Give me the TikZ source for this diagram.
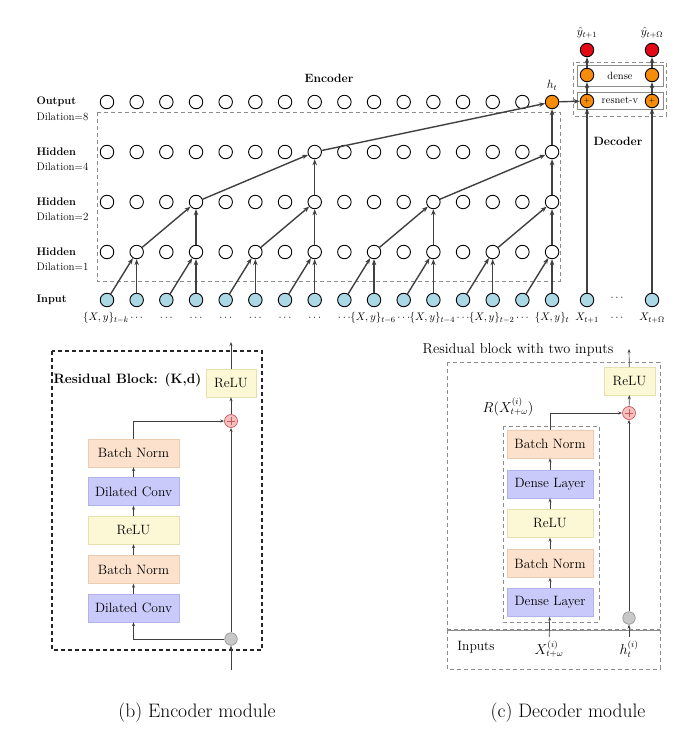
\documentclass[tikz,border=0pt]{standalone}
\usetikzlibrary{arrows.meta,calc}
\definecolor{lnc}{RGB}{64,64,64}
\definecolor{inpc}{RGB}{170,216,228}
\definecolor{orgc}{RGB}{246,140,10}
\definecolor{redc}{RGB}{226,10,20}
\definecolor{bnfill}{RGB}{252,226,204}
\definecolor{bnline}{RGB}{236,204,176}
\definecolor{cvfill}{RGB}{202,202,250}
\definecolor{cvline}{RGB}{178,178,236}
\definecolor{rlfill}{RGB}{252,248,214}
\definecolor{rlline}{RGB}{230,224,176}
\definecolor{plfill}{RGB}{246,192,192}
\definecolor{plline}{RGB}{200,90,90}
\definecolor{gyfill}{RGB}{200,200,200}
\definecolor{gyline}{RGB}{150,150,150}
\definecolor{dashc}{RGB}{140,140,140}
\begin{document}
\begin{tikzpicture}[x=1pt,y=-1pt,
  cir/.style={circle,draw=black,line width=0.9pt,minimum size=13.5pt,inner sep=0pt,fill=white},
  inp/.style={cir,fill=inpc},
  org/.style={cir,fill=orgc},
  rdc/.style={cir,fill=redc},
  arr/.style={draw=lnc,line width=1.4pt,-{Stealth[length=6pt,width=4.5pt]}},
  sarr/.style={draw=lnc,line width=0.7pt,-{Stealth[length=4pt,width=3pt]}},
  rowlab/.style={anchor=west,font=\fontsize{11}{13}\selectfont\bfseries},
  dillab/.style={anchor=west,font=\fontsize{11}{13}\selectfont},
  inlab/.style={font=\fontsize{11}{13}\selectfont},
  blk/.style={rectangle,minimum height=28pt,inner sep=0pt,font=\fontsize{13.5}{15}\selectfont},
  bnbox/.style={blk,fill=bnfill,draw=bnline},
  cvbox/.style={blk,fill=cvfill,draw=cvline},
  rlbox/.style={blk,fill=rlfill,draw=rlline},
  plusc/.style={circle,draw=plline,fill=plfill,minimum size=13pt,inner sep=0pt,line width=0.7pt},
  grayc/.style={circle,draw=gyline,fill=gyfill,minimum size=12.5pt,inner sep=0pt,line width=0.7pt},
  gdash/.style={draw=dashc,line width=0.9pt,dash pattern=on 4pt off 3pt}
]
\useasboundingbox (0,0) rectangle (682,751);
\fill[white] (0,0) rectangle (682,751);

% ---------------- top network ----------------
\draw[gdash] (97,112) rectangle (560,281);
\foreach \i in {0,...,15}{
  \node[inp] (in\i) at ({107+29.67*\i},300) {};
  \node[cir] (ha\i) at ({107+29.67*\i},252) {};
  \node[cir] (hb\i) at ({107+29.67*\i},202) {};
  \node[cir] (hc\i) at ({107+29.67*\i},152) {};
}
\foreach \i in {0,...,14}{
  \node[cir] (o\i) at ({107+29.67*\i},102) {};
}
\node[org] (o15) at ({107+29.67*15},102) {};

\foreach \a/\b in {0/1,2/3,4/5,6/7,8/9,10/11,12/13,14/15}{
  \draw[arr] (in\a) -- (ha\b);
  \draw[arr] (in\b) -- (ha\b);
}
\foreach \a/\b in {1/3,5/7,9/11,13/15}{
  \draw[arr] (ha\a) -- (hb\b);
  \draw[arr] (ha\b) -- (hb\b);
}
\foreach \a/\b in {3/7,11/15}{
  \draw[arr] (hb\a) -- (hc\b);
  \draw[arr] (hb\b) -- (hc\b);
}
\draw[arr] (hc7) -- (o15);
\draw[arr] (hc15) -- (o15);

\node[rowlab] (lo) at (33,102) {Output};
\node[dillab] (ld8) at (33,117) {Dilation=8};
\node[rowlab] (lh4) at (33,152) {Hidden};
\node[dillab] (ld4) at (33,167) {Dilation=4};
\node[rowlab] (lh2) at (33,202) {Hidden};
\node[dillab] (ld2) at (33,217) {Dilation=2};
\node[rowlab] (lh1) at (33,252) {Hidden};
\node[dillab] (ld1) at (33,267) {Dilation=1};
\node[rowlab] (lin) at (33,300) {Input};
\node[font=\fontsize{12}{14}\selectfont\bfseries] (enc) at (329,78) {Encoder};
\node[font=\fontsize{12}{14}\selectfont] (htl) at (552,85) {$h_t$};

% input labels
\node[inlab] (t0) at (106,318) {$\{X,y\}_{t-k}$};
\foreach \i in {1,...,8,10,12,14}{
  \node[inlab] (t\i) at ({107+29.67*\i},318) {$\cdots$};
}
\node[inlab] (t9) at ({107+29.67*9-1},318) {$\{X,y\}_{t-6}$};
\node[inlab] (t11) at ({107+29.67*11-1},318) {$\{X,y\}_{t-4}$};
\node[inlab] (t13) at ({107+29.67*13-1},318) {$\{X,y\}_{t-2}$};
\node[inlab] (t15) at ({107+29.67*15},318) {$\{X,y\}_{t}$};

% decoder (top)
\draw[gdash] (573,62) rectangle (666,116);
\draw[draw=dashc,line width=0.8pt] (577,92) rectangle (663,109);
\draw[draw=dashc,line width=0.8pt] (577,65) rectangle (663,86);
\node[font=\fontsize{10.5}{12}\selectfont] (rv) at (620,100) {resnet-v};
\node[font=\fontsize{10.5}{12}\selectfont] (dn) at (620,75.5) {dense};
\node[inp] (x1) at (587,300) {};
\node[inp] (xo) at (652,300) {};
\node[inlab] (x1l) at (587,318) {$X_{t+1}$};
\node[inlab] (dl) at (617,318) {$\cdots$};
\node[inlab] (dl2) at (617,298) {$\cdots$};
\node[inlab] (xol) at (652,318) {$X_{t+\Omega}$};
\node[org,font=\fontsize{7}{8}\selectfont] (p1) at (587,101) {$+$};
\node[org,font=\fontsize{7}{8}\selectfont] (p2) at (652,101) {$+$};
\node[org] (d1) at (587,75) {};
\node[org] (d2) at (652,75) {};
\node[rdc] (y1) at (587,50) {};
\node[rdc] (y2) at (652,50) {};
\node[font=\fontsize{11.5}{13}\selectfont] (y1l) at (587,33) {$\hat{y}_{t+1}$};
\node[font=\fontsize{11.5}{13}\selectfont] (y2l) at (652,33) {$\hat{y}_{t+\Omega}$};
\node[font=\fontsize{12}{14}\selectfont\bfseries] (decl) at (618,141) {Decoder};
\draw[arr] (o15) -- (p1);
\draw[arr] (x1) -- (p1);
\draw[arr] (xo) -- (p2);
\draw[arr] (p1) -- (d1);
\draw[arr] (p2) -- (d2);
\draw[arr] (d1) -- (y1);
\draw[arr] (d2) -- (y2);

% ---------------- encoder module ----------------
\draw[draw=black!85,line width=1.2pt,dash pattern=on 4pt off 3pt] (52,351) rectangle (262,650);
\node[anchor=west,font=\fontsize{13.6}{16}\selectfont\bfseries] (rbt) at (50,380) {Residual Block: (K,d)};
\node[rlbox,minimum width=50pt] (erl) at (231,383) {ReLU};
\node[plusc] (epl) at (231,421) {};
\draw[plline,line width=0.7pt] ($(epl.center)+(-4,0)$) -- ($(epl.center)+(4,0)$);
\draw[plline,line width=0.7pt] ($(epl.center)+(0,-4)$) -- ($(epl.center)+(0,4)$);
\node[grayc] (egc) at (231,639) {};
\coordinate (ebot) at (231,670);
\coordinate (etop) at (231,342);
\node[bnbox,minimum width=91pt] (ebn2) at (133.5,453) {Batch Norm};
\node[cvbox,minimum width=91pt] (ecv2) at (133.5,491.5) {Dilated Conv};
\node[rlbox,minimum width=91pt] (erl1) at (133.5,530) {ReLU};
\node[bnbox,minimum width=91pt] (ebn1) at (133.5,569.5) {Batch Norm};
\node[cvbox,minimum width=91pt] (ecv1) at (133.5,608) {Dilated Conv};
\draw[sarr] (ebot) -- (egc);
\draw[sarr] (egc) -- (epl);
\draw[sarr] (epl) -- (erl);
\draw[sarr] (erl) -- (etop);
\draw[sarr] (egc) -| (ecv1);
\draw[sarr] (ecv1) -- (ebn1);
\draw[sarr] (ebn1) -- (erl1);
\draw[sarr] (erl1) -- (ecv2);
\draw[sarr] (ecv2) -- (ebn2);
\draw[sarr] (ebn2) |- (epl);

% ---------------- decoder module ----------------
\node[font=\fontsize{14.3}{16}\selectfont] (dtitle) at (518,350) {Residual block with two inputs};
\draw[gdash] (447,362) rectangle (660,630);
\draw[gdash,line width=1.6pt] (447,630) -- (660,630);
\draw[gdash] (447,630) rectangle (660,669);
\draw[gdash] (503,426) rectangle (599,622);
\node[rlbox,minimum width=51pt] (drl) at (629.5,381) {ReLU};
\node[plusc] (dpl) at (629,413) {};
\draw[plline,line width=0.7pt] ($(dpl.center)+(-4,0)$) -- ($(dpl.center)+(4,0)$);
\draw[plline,line width=0.7pt] ($(dpl.center)+(0,-4)$) -- ($(dpl.center)+(0,4)$);
\node[grayc] (dgc) at (629,618) {};
\coordinate (dtop) at (629,349);
\node[bnbox,minimum width=86pt] (dbn2) at (550,444) {Batch Norm};
\node[cvbox,minimum width=86pt] (ddl2) at (550,484) {Dense Layer};
\node[rlbox,minimum width=86pt] (drl1) at (550,523.5) {ReLU};
\node[bnbox,minimum width=86pt] (dbn1) at (550,563.5) {Batch Norm};
\node[cvbox,minimum width=86pt] (ddl1) at (550,602.5) {Dense Layer};
\node[font=\fontsize{13.5}{15}\selectfont] (rlab) at (508,407) {$R(X^{(i)}_{t+\omega})$};
\node[font=\fontsize{13.5}{15}\selectfont] (inl) at (476,647) {Inputs};
\node[font=\fontsize{13.5}{15}\selectfont] (xil) at (549,649) {$X^{(i)}_{t+\omega}$};
\node[font=\fontsize{13.5}{15}\selectfont] (hil) at (629,649) {$h^{(i)}_{t}$};
\draw[sarr] (hil) -- (dgc);
\draw[sarr] (dgc) -- (dpl);
\draw[sarr] (dpl) -- (drl);
\draw[sarr] (drl) -- (dtop);
\draw[sarr] (xil) -- (ddl1);
\draw[sarr] (ddl1) -- (dbn1);
\draw[sarr] (dbn1) -- (drl1);
\draw[sarr] (drl1) -- (ddl2);
\draw[sarr] (ddl2) -- (dbn2);
\draw[sarr] (dbn2) |- (dpl);

% captions
\node[font=\fontsize{19.5}{22}\selectfont] (capb) at (197,713) {(b) Encoder module};
\node[font=\fontsize{19.5}{22}\selectfont] (capc) at (568,713) {(c) Decoder module};
\end{tikzpicture}
\end{document}
